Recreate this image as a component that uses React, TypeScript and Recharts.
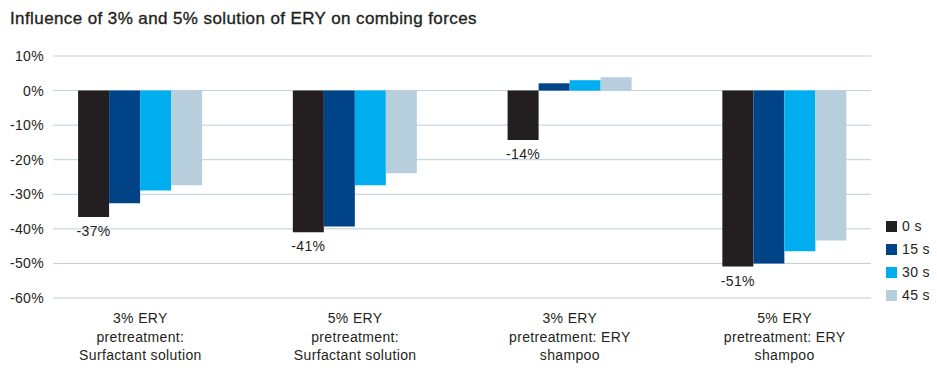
import React from 'react';
import { BarChart, Bar, XAxis, YAxis, CartesianGrid, LabelList } from 'recharts';

const categories = [
    '3% ERY\npretreatment:\nSurfactant solution',
    '5% ERY\npretreatment:\nSurfactant solution',
    '3% ERY\npretreatment: ERY\nshampoo',
    '5% ERY\npretreatment: ERY\nshampoo',
];
const s0 = [-36.6, -41.0, -14.3, -50.9];
const s15 = [-32.6, -39.3, 2.1, -50.0];
const s30 = [-28.9, -27.4, 3.0, -46.5];
const s45 = [-27.4, -23.9, 3.85, -43.4];
const yTicks = [-60, -50, -40, -30, -20, -10, 0, 10];

const seriesMeta = [
    { key: 's0', label: '0 s', color: '#231f20' },
    { key: 's15', label: '15 s', color: '#004487' },
    { key: 's30', label: '30 s', color: '#00aeef' },
    { key: 's45', label: '45 s', color: '#b7cfdc' },
];

const data = categories.map((name, i) => ({
    name,
    s0: s0[i],
    s15: s15[i],
    s30: s30[i],
    s45: s45[i],
}));

const FONT = '"Liberation Sans", Arial, Helvetica, sans-serif';
const TEXT = '#231f20';
const SPACING = '0.35px';

const YTick = (props: any) => {
    const { x, y, payload } = props;
    return (
        <text x={x + 11} y={y} textAnchor="end" dominantBaseline="central" fontSize={14} fill={TEXT} fontFamily={FONT} letterSpacing={SPACING}>
            {payload.value}%
        </text>
    );
};

const XTick = (props: any) => {
    const { x, y, payload } = props;
    const lines = String(payload.value).split('\n');
    return (
        <text x={x} y={y} textAnchor="middle" fontSize={14} fill={TEXT} fontFamily={FONT} letterSpacing={SPACING}>
            {lines.map((line, i) => (
                <tspan key={i} x={x} y={y + 25 + i * 18.5}>{line}</tspan>
            ))}
        </text>
    );
};

const ValueLabel = (props: any) => {
    const { x, y, width, height, value } = props;
    const bottom = Math.max(y, y + height);
    return (
        <text x={x + width / 2} y={bottom + 14} textAnchor="middle" dominantBaseline="central" fontSize={14} fill={TEXT} fontFamily={FONT} letterSpacing={SPACING}>
            {Math.round(value)}%
        </text>
    );
};

// grid lines are a bit shorter than the category band
const GridLine = (props: any) => (
    <line key={props.key} x1={props.x1 + 20} x2={props.x2 - 21} y1={props.y1} y2={props.y2} stroke="#b9cfdb" strokeWidth={1} />
);

const App: React.FC = () => {
    return (
        <div style={{ position: 'absolute', left: 0, top: 0, width: 937, height: 371, background: '#fff', fontFamily: FONT }}>
            <div style={{ position: 'absolute', left: 10, top: 9, fontSize: 17, lineHeight: '20px', color: TEXT, letterSpacing: '0.4px', WebkitTextStroke: '0.35px #231f20', whiteSpace: 'nowrap' }}>
                Influence of 3% and 5% solution of ERY on combing forces
            </div>
            <BarChart
                width={937}
                height={371}
                data={data}
                margin={{ top: 56, right: 45, bottom: 13, left: 0 }}
                barGap={0}
                barCategoryGap="21%"
            >
                <CartesianGrid vertical={false} horizontal={GridLine} />
                <XAxis dataKey="name" axisLine={false} tickLine={false} tickSize={0} tickMargin={0} height={60} tick={XTick} interval={0} />
                <YAxis
                    domain={[-60, 10]}
                    ticks={yTicks}
                    axisLine={false}
                    tickLine={false}
                    tickSize={0}
                    tickMargin={0}
                    width={33}
                    tick={YTick}
                    interval={0}
                />
                {seriesMeta.map(meta => (
                    <Bar key={meta.key} dataKey={meta.key} fill={meta.color} isAnimationActive={false}>
                        {meta.key === 's0' && <LabelList dataKey={meta.key} content={ValueLabel} />}
                    </Bar>
                ))}
            </BarChart>
            <div style={{ position: 'absolute', left: 886, top: 221 }}>
                {seriesMeta.map(meta => (
                    <div key={meta.key} style={{ display: 'flex', alignItems: 'center', height: 11, marginBottom: 12 }}>
                        <div style={{ width: 11, height: 11, background: meta.color }} />
                        <span style={{ marginLeft: 5, fontSize: 14, color: TEXT, lineHeight: '11px', letterSpacing: SPACING }}>{meta.label}</span>
                    </div>
                ))}
            </div>
        </div>
    );
};

export default App;
